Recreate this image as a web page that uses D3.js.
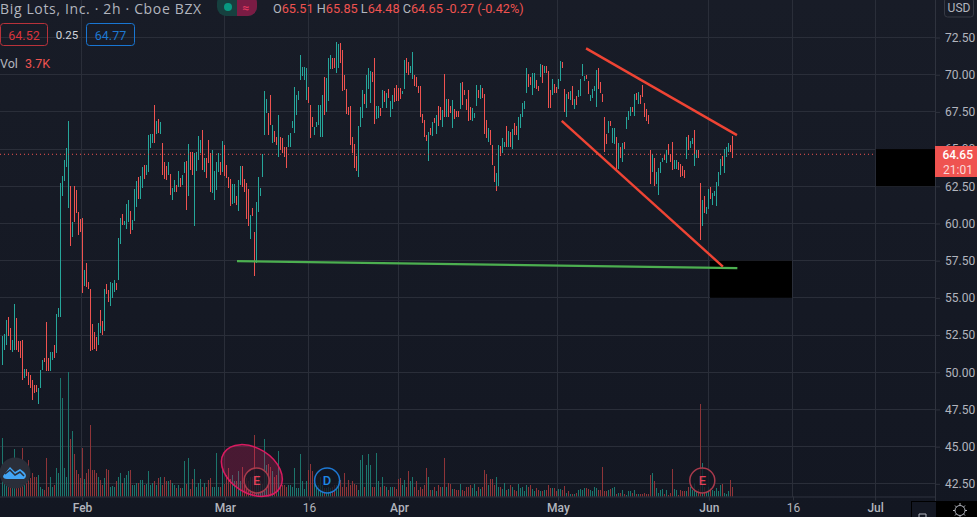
<!DOCTYPE html>
<html>
<head>
<meta charset="utf-8">
<script src="https://cdn.jsdelivr.net/npm/d3@7/dist/d3.min.js"></script>
<style>
  html, body { margin: 0; padding: 0; background: #131722; overflow: hidden; }
  text { font-family: Roboto, "Noto Sans", sans-serif; }
  .tick text { fill: #b2b5be; font-size: 12px; }
  .domain { stroke: #2f333e; }
  .tick line { stroke: #2f333e; }
</style>
</head>
<body>
<svg id="chart" width="977" height="517"></svg>
<script>
const barHigh = [
  52.42,52.56,53.50,53.70,52.96,52.15,54.58,53.63,52.09,52.09,
  52.15,50.21,50.21,50.00,49.80,49.47,49.13,49.13,48.93,50.14,
  50.81,50.94,53.37,50.94,51.35,51.35,51.82,53.90,54.31,62.71,
  63.18,64.26,65.07,66.88,62.51,60.09,62.51,62.24,60.76,60.29,
  60.36,56.86,57.33,56.06,55.58,53.23,52.69,52.36,53.30,53.63,
  54.17,53.43,55.58,55.92,55.52,56.06,55.99,56.19,55.99,59.01,
  60.36,60.63,60.16,61.30,61.57,60.83,60.22,62.31,62.85,63.12,
  63.18,63.79,63.92,63.92,65.94,66.01,66.01,67.96,66.88,67.02,
  66.82,65.40,64.13,63.86,64.13,63.32,62.38,62.91,62.58,63.52,
  63.05,63.25,64.13,64.19,65.34,64.80,64.80,64.73,64.80,65.87,
  65.60,66.28,64.39,64.39,65.60,64.73,64.93,63.52,64.13,64.73,
  64.13,65.54,65.27,63.92,63.12,62.98,62.65,62.65,61.84,62.91,
  63.86,63.86,62.98,62.71,62.31,60.56,61.03,59.42,61.43,63.12,
  62.38,64.66,68.90,68.36,67.42,68.63,66.61,66.21,65.81,67.29,
  65.81,65.74,65.13,65.13,65.94,66.08,66.88,69.17,68.63,68.83,
  68.90,71.32,70.51,70.51,70.45,69.17,67.96,67.15,66.48,66.82,
  67.96,67.96,68.63,69.84,69.77,71.12,71.32,71.12,71.12,72.20,
  72.06,72.13,71.66,69.98,69.03,67.82,67.89,65.81,65.34,64.53,
  66.55,67.82,68.97,68.70,69.98,70.45,70.25,70.18,71.12,67.89,
  67.89,67.76,68.97,68.90,68.77,69.03,68.23,68.63,69.10,69.30,
  69.10,69.10,68.90,70.99,71.12,70.85,70.58,71.52,69.98,69.84,
  69.24,69.24,67.35,66.95,65.94,66.14,66.41,66.82,67.08,67.29,
  67.89,67.82,67.62,70.04,68.36,68.36,67.89,68.30,67.69,67.55,
  67.55,69.44,69.51,68.97,68.36,68.97,67.82,67.76,67.42,69.30,
  68.97,69.30,69.10,68.70,66.95,66.41,66.28,65.27,63.86,62.85,
  63.39,65.27,65.20,65.74,65.47,66.55,66.21,66.14,66.34,66.75,
  66.55,67.15,67.35,68.09,68.23,70.45,70.04,69.84,70.11,70.11,
  69.64,69.24,70.72,70.65,70.58,70.58,70.25,68.97,69.71,69.37,
  69.17,69.71,70.92,70.85,69.03,68.70,68.83,68.90,69.24,68.36,
  68.56,68.97,69.71,70.72,69.91,69.98,69.57,68.63,69.03,69.24,
  70.31,70.45,69.51,68.70,67.15,66.01,66.88,66.88,66.41,66.41,
  65.81,65.40,65.13,65.40,65.47,67.15,67.55,67.82,67.82,68.70,
  68.77,68.83,68.63,69.30,68.09,67.69,67.29,64.93,64.66,64.39,
  63.45,63.72,64.13,64.39,64.60,64.93,65.34,64.66,65.47,64.26,
  64.26,64.13,63.99,63.86,63.59,65.81,65.94,65.54,65.74,66.28,
  64.66,64.93,64.93,62.71,61.57,61.84,61.10,62.31,62.44,62.04,
  62.17,62.78,63.45,64.33,64.53,65.00,65.13,65.40,65.27,65.87
];
const barLow = [
  50.47,51.48,51.82,52.42,51.48,51.35,51.48,51.48,51.35,50.94,
  49.47,49.60,49.73,49.13,48.93,48.12,48.59,48.66,47.85,48.93,
  50.14,50.68,50.07,50.07,50.07,50.81,50.94,51.28,53.70,53.70,
  61.84,62.85,63.79,61.03,58.48,59.08,60.09,60.70,59.22,59.42,
  55.32,55.79,55.72,55.58,51.42,51.48,51.55,51.42,51.82,52.63,
  53.10,52.49,52.76,55.25,54.71,54.44,54.98,55.38,55.52,56.19,
  58.61,59.89,59.89,59.62,60.09,59.28,59.55,60.16,61.10,61.64,
  61.64,62.38,62.98,63.25,63.45,65.07,65.40,65.40,66.01,66.08,
  66.01,63.25,62.98,62.91,63.25,61.91,61.57,62.11,62.11,62.44,
  62.44,62.58,63.39,60.90,61.84,63.59,63.25,59.82,63.52,64.26,
  64.73,63.59,63.45,63.05,64.06,62.11,62.04,61.57,62.24,63.45,
  63.25,63.45,63.18,63.05,62.38,61.17,61.30,61.37,61.23,60.83,
  62.58,62.44,62.11,60.29,59.82,58.95,60.49,56.46,57.33,60.76,
  61.84,63.12,65.94,67.42,65.94,66.61,65.40,65.47,65.27,64.46,
  64.93,64.73,64.46,63.72,65.13,65.13,66.41,66.08,67.29,68.63,
  68.30,69.64,69.91,69.64,68.30,68.09,65.74,66.48,65.94,66.48,
  66.61,65.81,65.81,67.29,67.49,68.23,70.38,70.38,70.45,70.11,
  70.45,70.78,68.90,68.97,67.35,67.29,65.27,64.73,63.72,63.52,
  63.12,66.48,67.08,68.03,67.76,69.03,68.09,69.51,66.68,67.02,
  67.08,67.22,67.76,68.16,67.76,68.43,67.15,67.69,68.16,68.23,
  68.23,68.36,68.70,69.03,70.11,69.98,70.11,69.71,69.24,69.17,
  68.77,67.15,66.75,65.81,65.54,64.19,65.94,65.87,66.75,66.01,
  66.55,66.95,66.48,67.15,67.15,67.15,67.42,66.41,67.02,67.15,
  67.15,67.69,67.96,68.63,67.62,66.88,66.95,66.88,67.08,67.89,
  68.43,68.36,68.43,66.01,65.74,65.47,65.27,63.92,62.78,62.17,
  62.51,62.51,64.53,64.73,65.13,65.13,65.13,65.13,65.00,65.94,
  65.94,65.60,66.41,67.15,67.69,68.77,69.17,69.30,68.63,69.10,
  69.03,68.90,69.84,69.44,70.11,70.11,67.76,67.76,68.63,68.77,
  68.77,69.03,69.57,70.45,67.49,67.15,68.36,68.30,67.96,67.69,
  67.96,68.50,68.56,69.91,69.57,69.71,68.70,68.23,68.43,68.90,
  67.82,69.03,68.77,68.16,64.80,65.34,66.08,66.55,65.40,65.34,
  63.59,63.65,64.39,64.13,65.00,66.34,66.95,67.22,67.49,67.22,
  68.30,68.03,68.03,68.50,67.15,66.88,66.68,62.65,63.45,62.51,
  62.65,61.91,63.39,64.13,64.26,64.06,64.60,64.13,63.59,63.65,
  63.65,63.59,63.12,63.18,63.05,64.33,64.93,65.07,65.34,64.26,
  63.86,64.39,64.39,58.88,59.82,60.70,60.63,60.97,61.64,61.23,
  61.84,61.17,62.51,63.25,63.86,63.39,64.46,64.80,64.80,64.39
];
// 1 = green bar, 0 = red bar
const barUp = [
  1,1,1,0,0,1,1,0,0,0, 0,1,0,0,0,0,0,0,1,1,
  1,0,0,0,1,1,0,1,1,1, 1,1,1,1,0,1,0,0,0,0,
  0,1,0,0,0,0,0,0,1,1, 0,0,1,0,0,1,1,1,0,1,
  1,0,1,1,1,0,1,1,1,0, 1,1,0,1,1,1,1,0,1,0,
  1,0,0,0,1,0,1,1,0,1, 0,1,1,0,1,0,0,1,1,1,
  1,0,1,0,0,0,1,1,1,1, 0,1,0,0,0,0,1,1,0,1,
  1,0,0,0,0,1,0,0,1,1, 1,1,1,1,0,0,1,0,0,1,
  0,0,0,0,1,1,1,1,1,0, 1,1,1,1,1,0,0,0,1,1,
  1,1,1,0,1,1,1,0,0,1, 1,0,0,0,0,0,0,0,0,0,
  1,1,1,0,1,1,1,0,0,1, 1,0,1,0,1,0,1,1,0,0,
  0,0,1,1,0,0,1,1,0,0, 0,0,0,0,0,1,0,1,0,1,
  0,0,1,0,1,0,0,1,0,0, 0,1,0,0,0,0,0,1,1,1,
  0,1,0,0,0,1,0,0,0,0, 1,1,0,1,1,0,1,0,1,0,
  0,1,1,1,1,1,0,0,1,1, 0,0,1,0,1,0,0,0,1,0,
  0,1,1,0,0,1,0,1,0,1, 0,1,1,1,1,0,0,1,1,1,
  1,0,0,0,0,0,1,0,1,1, 0,1,0,1,0,1,1,1,0,1,
  0,1,0,0,0,0,0,0,1,0, 1,1,1,1,0,1,0,0,0,1,
  1,0,0,0,0,1,0,1,1,0, 1,1,0,0,1,0,1,1,0,1,
  1,1,1,1,0,1,1,1,0,0
];
const barVolume = [
  24.2,6.2,14.4,10.3,8.2,6.2,19.3,8.2,7.4,6.2,
  19.7,11.5,7.4,14.8,7.4,9.8,8.2,8.2,9.0,4.1,
  2.9,2.5,16,4.1,8.2,4.1,4.9,11.5,9.8,48.8,
  40.6,11.5,8.2,51.3,23.4,26.7,17.6,10.7,9.4,7.4,
  19.7,7,9.8,11.1,29.5,10.7,10.7,9.8,8.2,6.2,
  6.6,4.9,7.4,11.1,10.7,4.1,4.5,3.7,6.2,7.8,
  9.8,5.7,7.4,9,10.3,10.7,4.9,4.9,5.7,5.7,
  6.6,6.6,4.9,5.3,10.3,4.9,5.7,6.2,4.9,7.4,
  8.2,4.9,7.8,6.2,6.2,6.6,5.7,4.9,3.3,4.9,
  3.3,3.3,14.4,5.3,16,2.9,7,11.1,4.1,5.7,
  7,4.1,5.7,4.1,6.6,7.4,4.1,4.1,18,4.1,
  4.1,11.5,5.3,9,11.5,7,9,6.2,6.2,10.3,
  6.2,12.3,7.4,7.4,6.2,8.2,8.2,25.4,9,9,
  6.2,5.3,23.4,13.1,13.5,12.3,10.3,8.2,9,18.5,
  4.9,4.9,4.9,4.1,4.9,4.9,4.1,11.5,3.3,2.9,
  3.3,17.6,6.2,2.9,6.2,10.7,13.5,10.3,6.2,4.1,
  4.9,8.2,4.9,3.3,3.3,4.1,3.3,4.1,4.9,4.9,
  6.2,6.6,3.7,9.8,4.1,6.6,4.9,6.2,5.3,4.9,
  2.5,14.8,17.2,3.7,13.1,17.6,13.1,4.1,3.7,18,
  6.2,4.1,8.2,4.5,3.7,2.5,3.7,3.7,3.7,2.9,
  7,7.4,4.9,6.6,3.7,10.3,6.2,8.2,4.1,6.2,
  2.5,3.7,2.9,4.9,11.9,7.8,2.5,2.5,3.7,2.1,
  4.9,3.7,4.1,16,4.1,5.7,5.3,2.9,2.9,2.5,
  2.5,5.3,2.5,2.1,4.1,3.7,4.9,3.3,5.3,2.1,
  4.1,2.9,4.1,10.7,9.4,4.9,7,7,4.9,7,
  8.2,3.7,3.7,2.9,5.7,2.5,2.9,4.9,3.7,2.5,
  2.1,5.3,3.3,3.7,2.1,4.9,3.7,4.9,2.9,2.1,
  3.3,2.5,2.1,2.1,2.5,2.5,4.9,3.3,3.3,3.3,
  2.1,2.9,2.9,2.5,4.5,1.6,2.1,1.2,1.2,1.2,
  1.6,2.5,2.9,2.5,3.3,3.3,2.9,2.5,2.1,4.1,
  3.3,2.5,2.5,12.3,2.1,2.1,2.5,2.9,3.3,3.7,
  1.2,1.6,1.6,2.5,1.2,.8,2.1,2.1,1.6,2.5,
  1.2,1.2,1.2,1.2,1.6,1.2,1.2,9,9.8,6.2,
  3.3,1.6,2.5,2.9,1.2,2.5,.8,1.6,11.1,2.9,
  2.5,.8,2.5,2.1,2.1,2.1,3.7,4.1,2.5,2.9,
  5.7,2.1,2.9,38.1,13.9,4.1,1.6,4.1,3.3,2.5,
  2.1,3.3,2.1,4.9,5.3,1.6,1.2,2.1,6.6,3.7
];

const priceTicks = [42.5,45,47.5,50,52.5,55,57.5,60,62.5,65,67.5,70,72.5];
const timeTickBars = [40.4,112.6,155,200.5,280.8,357,399.5,441];
const timeTickLabels = ["Feb","Mar","16","Apr","May","Jun","16","Jul"];
const lastPrice = 64.65;

// drawings, as [bar, price]
const redLines = [[[295,71.77],[371.2,65.94]], [[282.7,66.9],[364.1,57.1]]];
const greenLine = [[118.7,57.47],[371.4,57]];
const blackBoxes = [[441.4,472,65,62.5],[357.6,399,57.5,55]];
const eventMarks = [[128.6,"E","#e04058","#a83a4c"],[164.2,"D","#1e88e5","#1e78d2"],[353.7,"E","#e04058","#a83a4c"]];

const svg = d3.select("#chart");
const plotRight = 935, plotBottom = 496.5;

const x = d3.scaleLinear().domain([0,369]).range([2,732.6]);
const y = d3.scaleLinear().domain([42.5,72.5]).range([483.8,37.5]);
const yVol = d3.scaleLinear().domain([0,51.3]).range([plotBottom,371.5]);

// thin bars lose their colour in the photo on odd pixel columns, so keep them on even ones
const barX = i => 2 * Math.round(x(i) / 2);

const defs = svg.append("defs");
const bg = defs.append("linearGradient").attr("id","bg").attr("x1",0).attr("x2",0).attr("y1",0).attr("y2",1);
bg.append("stop").attr("offset","0%").attr("stop-color","#181c27");
bg.append("stop").attr("offset","100%").attr("stop-color","#131722");
defs.append("clipPath").attr("id","plot").append("rect").attr("width",plotRight).attr("height",plotBottom);

svg.append("rect").attr("width",977).attr("height",517).attr("fill","url(#bg)");

// grid
const grid = svg.append("g").attr("stroke","#2a2e39").attr("stroke-width",1).attr("shape-rendering","crispEdges");
grid.selectAll(".h").data(priceTicks).join("line")
  .attr("x1",0).attr("x2",plotRight).attr("y1",d => y(d)).attr("y2",d => y(d));
grid.selectAll(".v").data(timeTickBars).join("line")
  .attr("x1",d => x(d)).attr("x2",d => x(d)).attr("y1",0).attr("y2",plotBottom);

const plot = svg.append("g").attr("clip-path","url(#plot)");

// volume
plot.append("g").attr("shape-rendering","crispEdges").selectAll("rect").data(barVolume).join("rect")
  .attr("x",(d,i) => barX(i))
  .attr("width",1)
  .attr("y",d => yVol(d))
  .attr("height",d => plotBottom - yVol(d))
  .attr("fill",(d,i) => barUp[i] ? "#1c756c" : "#8e3438");

// price bars
plot.append("g").attr("shape-rendering","crispEdges").selectAll("rect").data(barHigh).join("rect")
  .attr("x",(d,i) => barX(i))
  .attr("width",1)
  .attr("y",d => y(d))
  .attr("height",(d,i) => y(barLow[i]) - y(d))
  .attr("fill",(d,i) => barUp[i] ? "#26a69a" : "#ef5350");

// last price line
plot.append("line")
  .attr("x1",0).attr("x2",plotRight).attr("y1",y(lastPrice)).attr("y2",y(lastPrice))
  .attr("stroke","#ef5350").attr("stroke-dasharray","1 3");

// black boxes
plot.selectAll(".box").data(blackBoxes).join("rect")
  .attr("x",d => x(d[0])).attr("width",d => x(d[1]) - x(d[0]))
  .attr("y",d => y(d[2])).attr("height",d => y(d[3]) - y(d[2]))
  .attr("fill","#000");

// trend lines
const trend = d3.line().x(d => x(d[0])).y(d => y(d[1]));
plot.append("path").attr("d",trend(greenLine)).attr("stroke","#4caf50").attr("stroke-width",2.4).attr("fill","none");
plot.selectAll(".red").data(redLines).join("path")
  .attr("d",trend).attr("stroke","#ef4434").attr("stroke-width",2.4).attr("fill","none");

// axes
const yAxis = d3.axisRight(y).tickValues(priceTicks).tickFormat(d3.format(".2f")).tickSize(5).tickPadding(5);
svg.append("g").attr("transform",`translate(${plotRight},0)`).call(yAxis)
  .call(g => g.select(".domain").attr("d","M0.5,0V517"));
const xAxis = d3.axisBottom(x).tickValues(timeTickBars).tickFormat((d,i) => timeTickLabels[i]).tickSize(4).tickPadding(3);
svg.append("g").attr("transform",`translate(0,${plotBottom})`).call(xAxis)
  .call(g => g.select(".domain").attr("d",`M0,0.5H${plotRight}`))
  .call(g => g.selectAll(".tick text").attr("font-weight",d => d === 155 || d === 399.5 ? 400 : 500));

// ellipse around the first earnings mark
svg.append("ellipse")
  .attr("cx",x(126.2)).attr("cy",470.5).attr("rx",33).attr("ry",22.5)
  .attr("transform",`rotate(32 ${x(126.2)} 470.5)`)
  .attr("fill","#e91e63").attr("fill-opacity",0.25).attr("stroke","#d81b60").attr("stroke-width",1.5);

// event marks
const marks = svg.selectAll(".mark").data(eventMarks).join("g")
  .attr("transform",d => `translate(${x(d[0])},480.5)`);
marks.append("circle").attr("r",12.5).attr("fill","#131722").attr("fill-opacity",0.75)
  .attr("stroke",d => d[3]).attr("stroke-width",1.5);
marks.append("text").text(d => d[1]).attr("text-anchor","middle").attr("y",4.5)
  .attr("font-size",13).attr("font-weight",500).attr("fill",d => d[2]);

// logo
svg.append("circle").attr("cx",15).attr("cy",473).attr("r",15.5).attr("fill","#2a2e39");
svg.append("path").attr("d","M3,476 L10,467 L15,472 L20,469 L24,472 Q28,476 24,479 L7,479 Q3,479 3,476Z").attr("fill","#42a5f5");
svg.append("path").attr("d","M5,474 L10,470 L15,475 L20,472 L24,476").attr("fill","none").attr("stroke","#2a2e39").attr("stroke-width",1.5);

// header
svg.append("text").attr("x",0).attr("y",14).attr("font-size",14).attr("letter-spacing",0.65).attr("fill","#b2b5be")
  .style("font-family",'"Open Sans", sans-serif')
  .text("Big Lots, Inc. · 2h · Cboe BZX");

svg.append("rect").attr("x",217).attr("y",-6).attr("width",40).attr("height",22).attr("rx",9).attr("fill","#16403f");
svg.append("path").attr("d","M237,-6H248A9,9 0 0 1 257,3V7A9,9 0 0 1 248,16H237Z").attr("fill","#7a1c44");
svg.append("circle").attr("cx",228).attr("cy",7).attr("r",4).attr("fill","#089981");
svg.append("text").attr("x",246).attr("y",11.5).attr("text-anchor","middle").attr("font-size",12).attr("font-weight",700).attr("fill","#e0365f").text("≈");

const ohlcLabels = [["O","65.51"],[" H","65.85"],[" L","64.48"],[" C","64.65"]];
const ohlc = svg.append("text").attr("x",273).attr("y",13).attr("font-size",12.7).attr("xml:space","preserve");
ohlcLabels.forEach(d => {
  ohlc.append("tspan").attr("fill","#b2b5be").text(d[0]);
  ohlc.append("tspan").attr("fill","#ef5350").text(d[1]);
});
ohlc.append("tspan").attr("fill","#ef5350").text(" -0.27 (-0.42%)");

svg.append("rect").attr("x",0.5).attr("y",23.5).attr("width",47).attr("height",22).attr("rx",3)
  .attr("fill","none").attr("stroke","#b8323a");
svg.append("text").attr("x",24).attr("y",40).attr("text-anchor","middle").attr("font-size",12.5).attr("fill","#d8343c").text("64.52");
svg.append("text").attr("x",67).attr("y",39).attr("text-anchor","middle").attr("font-size",11.5).attr("fill","#d1d4dc").text("0.25");
svg.append("rect").attr("x",86.5).attr("y",23.5).attr("width",48).attr("height",22).attr("rx",3)
  .attr("fill","none").attr("stroke","#1976d2");
svg.append("text").attr("x",110.5).attr("y",40).attr("text-anchor","middle").attr("font-size",12.5).attr("fill","#1e78d2").text("64.77");

svg.append("text").attr("x",0).attr("y",68).attr("font-size",12.5).attr("fill","#b2b5be").text("Vol");
svg.append("text").attr("x",25).attr("y",68).attr("font-size",12.5).attr("fill","#ef5350").text("3.7K");

// price label and currency
svg.append("rect").attr("x",935).attr("y",146).attr("width",42).attr("height",31).attr("fill","#ef5350");
svg.append("text").attr("x",973).attr("y",159).attr("text-anchor","end").attr("font-size",12).attr("font-weight",500).attr("fill","#fff").text(d3.format(".2f")(lastPrice));
svg.append("text").attr("x",973).attr("y",174).attr("text-anchor","end").attr("font-size",12).attr("fill","#fbd9d8").text("21:01");
svg.append("rect").attr("x",944.5).attr("y",-2).attr("width",29).attr("height",19).attr("rx",3).attr("fill","#181c27").attr("stroke","#363a45");
svg.append("text").attr("x",959).attr("y",12).attr("text-anchor","middle").attr("font-size",12).attr("fill","#b2b5be").text("USD");

// corner buttons
svg.append("rect").attr("x",911.5).attr("y",501.5).attr("width",25).attr("height",17).attr("fill","#131722").attr("stroke","#000");
svg.append("path").attr("d","M926,517V514H919V517").attr("fill","none").attr("stroke","#b2b5be");
svg.append("rect").attr("x",936).attr("y",501).attr("width",41).attr("height",16).attr("fill","#000");
svg.append("circle").attr("cx",960).attr("cy",510.5).attr("r",5).attr("fill","none").attr("stroke","#b2b5be");
svg.append("path").attr("d","M960,503V505M960,516V518M953,510.5H955M965,510.5H967M955,505.5L956.5,507M963.5,514L965,515.5M965,505.5L963.5,507M956.5,514L955,515.5")
  .attr("stroke","#b2b5be").attr("fill","none");
</script>
</body>
</html>
